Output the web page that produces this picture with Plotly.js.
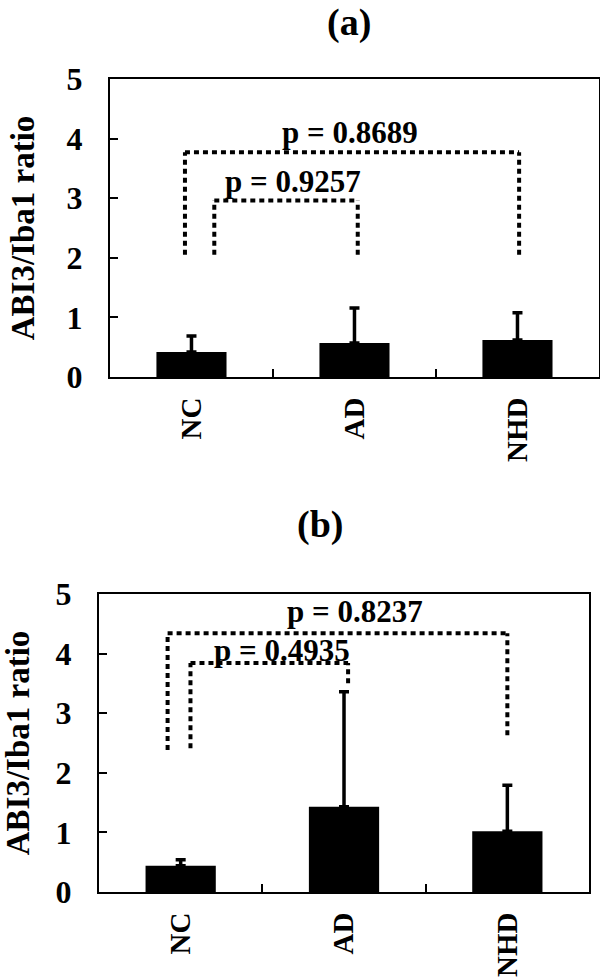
<!DOCTYPE html>
<html>
<head>
<meta charset="utf-8">
<script src="https://cdn.plot.ly/plotly-3.0.1.min.js"></script>
<style>
  body { margin: 0; background: #fff; }
  #chart { width: 600px; height: 979px; }
</style>
</head>
<body>
<div id="chart"></div>
<script>
// group labels shared by both panels
const groups = ['NC', 'AD', 'NHD'];

// panel (a): mean and upper end of the error bar
const meanA = [0.42, 0.57, 0.62];
const upperA = [0.69, 1.16, 1.08];

// panel (b)
const meanB = [0.44, 1.43, 1.02];
const upperB = [0.54, 3.36, 1.79];

// brackets: [from index, to index, top, left foot, right foot]
const bracketsA = [
    [-0.04, 2.01, 3.77, 2.05, 2.05],
    [0.14, 1.02, 2.96, 2.05, 2.05]
];
const bracketsB = [
    [-0.08, 2.0, 4.34, 2.38, 2.63],
    [0.06, 1.025, 3.84, 2.41, 3.5]
];

// p value labels: [x index, y, text]
const pLabelsA = [
    [0.97, 4.1, 'p = 0.8689'],
    [0.62, 3.28, 'p = 0.9257']
];
const pLabelsB = [
    [1.07, 4.7, 'p = 0.8237'],
    [0.62, 4.05, 'p = 0.4935']
];

const serif = 'Liberation Serif, Times New Roman, serif';

function barTrace(mean, upper, xa, ya) {
    return {
        type: 'bar',
        x: groups,
        y: mean,
        xaxis: xa,
        yaxis: ya,
        width: 0.43,
        marker: { color: '#000' },
        error_y: {
            type: 'data',
            symmetric: false,
            array: upper.map((u, i) => u - mean[i]),
            arrayminus: mean.map(() => 0),
            color: '#000',
            thickness: 3.5,
            width: 5
        },
        showlegend: false,
        hoverinfo: 'skip'
    };
}

function bracketShapes(list, xref, yref) {
    const out = [];
    const line = { color: '#000', width: 4, dash: '5px,4px' };
    list.forEach(b => {
        out.push({ type: 'line', xref: xref, yref: yref, x0: b[0], x1: b[1], y0: b[2], y1: b[2], line: line });
        out.push({ type: 'line', xref: xref, yref: yref, x0: b[0], x1: b[0], y0: b[3], y1: b[2], line: line });
        out.push({ type: 'line', xref: xref, yref: yref, x0: b[1], x1: b[1], y0: b[4], y1: b[2], line: line });
    });
    return out;
}

function pAnnotations(list, xref, yref) {
    return list.map(p => ({
        xref: xref, yref: yref, x: p[0], y: p[1], text: p[2],
        showarrow: false, yanchor: 'middle',
        font: { family: serif, size: 31, color: '#000', weight: 'bold' }
    }));
}

function xAxis(domain, anchor) {
    return {
        domain: domain,
        anchor: anchor,
        type: 'category',
        range: [-0.5, 2.5],
        showline: true, mirror: true, linecolor: '#000', linewidth: 2,
        showgrid: false, zeroline: false,
        ticks: 'inside', ticklen: 8, tickwidth: 2, tickcolor: '#000',
        tickson: 'boundaries',
        tickangle: -90,
        ticklabelstandoff: 7,
        tickfont: { family: serif, size: 29, color: '#000', weight: 'bold' },
        fixedrange: true
    };
}

function yAxis(domain, anchor) {
    return {
        domain: domain,
        anchor: anchor,
        range: [0, 5],
        dtick: 1,
        showline: true, mirror: true, linecolor: '#000', linewidth: 2,
        showgrid: false, zeroline: false,
        ticks: 'inside', ticklen: 8, tickwidth: 2, tickcolor: '#000',
        ticklabelstandoff: 19,
        tickfont: { family: serif, size: 32, color: '#000', weight: 'bold' },
        title: {
            text: 'ABI3/Iba1 ratio',
            standoff: 22,
            font: { family: serif, size: 33, color: '#000', weight: 'bold' }
        },
        fixedrange: true
    };
}

const data = [
    barTrace(meanA, upperA, 'x', 'y'),
    barTrace(meanB, upperB, 'x2', 'y2')
];

const layout = {
    width: 600,
    height: 979,
    margin: { l: 0, r: 0, t: 0, b: 0 },
    paper_bgcolor: '#fff',
    plot_bgcolor: '#fff',
    xaxis: xAxis([0.1833, 0.9983], 'y'),
    yaxis: yAxis([0.6149, 0.9193], 'x'),
    xaxis2: xAxis([0.165, 0.9817], 'y2'),
    yaxis2: yAxis([0.0889, 0.3933], 'x2'),
    shapes: bracketShapes(bracketsA, 'x', 'y').concat(bracketShapes(bracketsB, 'x2', 'y2')),
    annotations: pAnnotations(pLabelsA, 'x', 'y').concat(pAnnotations(pLabelsB, 'x2', 'y2')).concat([
        { xref: 'paper', yref: 'paper', x: 349 / 600, y: 1 - 22 / 979, text: '(a)', showarrow: false,
          yanchor: 'middle', font: { family: serif, size: 38, color: '#000', weight: 'bold' } },
        { xref: 'paper', yref: 'paper', x: 320 / 600, y: 1 - 524 / 979, text: '(b)', showarrow: false,
          yanchor: 'middle', font: { family: serif, size: 38, color: '#000', weight: 'bold' } }
    ]),
    showlegend: false
};

Plotly.newPlot('chart', data, layout, { displayModeBar: false, staticPlot: true });
</script>
</body>
</html>
